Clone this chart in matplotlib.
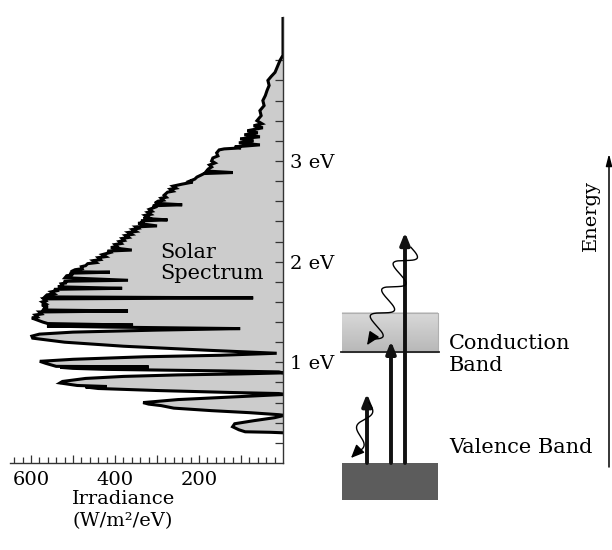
import numpy as np
import matplotlib.pyplot as plt
from matplotlib.ticker import FixedLocator, FuncFormatter

plt.rcParams['font.family'] = ['DejaVu Serif']

# ---------------------------------------------------------------
# solar spectrum (energy in eV, W/m2/eV)
# ---------------------------------------------------------------
energy_ev = [4.43, 4.05, 4.00, 3.95, 3.88, 3.84, 3.80, 3.75, 3.70, 3.65, 3.60, 3.55, 3.50, 3.45,
             3.40, 3.37, 3.35, 3.33, 3.30, 3.28, 3.26, 3.24, 3.22, 3.20, 3.18, 3.16, 3.14, 3.13,
             3.12, 3.11, 3.08, 3.05, 3.03, 3.00, 2.98, 2.96, 2.94, 2.92, 2.90, 2.885, 2.875, 2.86,
             2.84, 2.82, 2.80, 2.79, 2.77, 2.75, 2.73, 2.72, 2.70, 2.69, 2.66, 2.64, 2.63, 2.61,
             2.60, 2.58, 2.565, 2.555, 2.54, 2.52, 2.50, 2.49, 2.47, 2.46, 2.44, 2.43, 2.415, 2.405,
             2.39, 2.38, 2.355, 2.345, 2.33, 2.32, 2.30, 2.29, 2.27, 2.26, 2.24, 2.23, 2.21, 2.20,
             2.18, 2.17, 2.15, 2.14, 2.115, 2.105, 2.09, 2.07, 2.05, 2.04, 2.02, 2.01, 1.99, 1.98,
             1.96, 1.95, 1.93, 1.92, 1.90, 1.895, 1.885, 1.87, 1.86, 1.84, 1.815, 1.805, 1.79, 1.78,
             1.76, 1.75, 1.735, 1.725, 1.71, 1.70, 1.68, 1.67, 1.65, 1.64, 1.63, 1.61, 1.60, 1.58,
             1.57, 1.55, 1.54, 1.52, 1.51, 1.50, 1.48, 1.47, 1.45, 1.44, 1.42, 1.40, 1.385, 1.37,
             1.36, 1.35, 1.335, 1.32, 1.30, 1.28, 1.26, 1.24, 1.20, 1.16, 1.12, 1.09, 1.07, 1.055,
             1.03, 1.01, 0.99, 0.96, 0.955, 0.95, 0.94, 0.93, 0.915, 0.905, 0.895, 0.885, 0.875, 0.86,
             0.84, 0.81, 0.795, 0.77, 0.76, 0.755, 0.74, 0.72, 0.70, 0.69, 0.685, 0.68, 0.66, 0.63,
             0.60, 0.585, 0.57, 0.545, 0.52, 0.50, 0.48, 0.475, 0.47, 0.45, 0.42, 0.39, 0.36, 0.33,
             0.31, 0.305, 0.30]
irradiance = [0, 0, 7, 12, 19, 28, 36, 33, 38, 42, 48, 45, 55, 52,
              62, 50, 70, 48, 85, 60, 92, 55, 102, 70, 105, 55, 115, 100,
              140, 152, 158, 155, 167, 170, 162, 175, 170, 178, 182, 120, 188, 195,
              205, 210, 222, 215, 240, 262, 255, 268, 262, 275, 283, 278, 290, 285,
              298, 305, 240, 310, 305, 318, 312, 322, 315, 328, 320, 332, 275, 338,
              330, 345, 300, 350, 345, 358, 350, 368, 360, 375, 368, 383, 378, 390,
              385, 400, 395, 410, 360, 418, 412, 430, 422, 440, 435, 452, 445, 465,
              470, 480, 478, 495, 505, 412, 508, 500, 515, 519, 369, 522, 515, 528,
              525, 536, 383, 545, 540, 552, 545, 562, 567, 71, 570, 565, 573, 565,
              574, 560, 568, 571, 369, 580, 575, 590, 585, 598, 585, 572, 560, 357,
              562, 420, 102, 300, 500, 580, 598, 596, 520, 380, 180, 15, 150, 330,
              500, 579, 565, 540, 320, 530, 500, 420, 150, 10, 0, 100, 250, 380,
              470, 525, 531, 490, 420, 470, 440, 300, 120, 10, 0, 0, 100, 250,
              333, 320, 290, 260, 170, 80, 10, 0, 0, 20, 70, 115, 120, 105,
              90, 30, 0]

ev_ticks = [1, 2, 3]
ev_labels = ['1 eV', '2 eV', '3 eV']
irr_labels = {600: '600', 400: '400', 200: '200'}

# band diagram (eV for heights, pixel columns for x)
gap_bottom, gap_top = 1.10, 1.49
valence_top, valence_bottom = 0.0, -0.37
photon_x = [367, 391, 405]
photon_top = [0.69, 1.21, 2.29]

# ---------------------------------------------------------------
fig = plt.figure(figsize=(6.12, 5.5), dpi=100)
W, H = 612.0, 550.0
px_per_ev = 100.75

ax = fig.add_axes([10 / W, 1 - 463 / H, 273 / W, 446 / H])
ax.fill_betweenx(energy_ev, irradiance, 0, color='#cccccc', lw=0)
ax.plot(irradiance, energy_ev, color='black', lw=2.2, solid_joinstyle='miter')
ax.set_xlim(650, 0)
ax.set_ylim(0, 4.43)

for side in ['left', 'top']:
    ax.spines[side].set_visible(False)
for side in ['right', 'bottom']:
    ax.spines[side].set_color('#333333')
    ax.spines[side].set_linewidth(1.0)

ax.yaxis.tick_right()
ax.yaxis.set_major_locator(FixedLocator(ev_ticks))
ax.yaxis.set_minor_locator(FixedLocator(np.arange(0.2, 4.01, 0.2)))
ax.set_yticklabels(ev_labels)
ax.tick_params(axis='y', which='both', direction='in', length=6, width=0.9,
               color='#333333', labelsize=14, pad=5)

ax.xaxis.set_major_locator(FixedLocator(np.arange(100, 601, 100)))
ax.xaxis.set_minor_locator(FixedLocator(np.arange(20, 641, 20)))
ax.xaxis.set_major_formatter(FuncFormatter(lambda v, p: irr_labels.get(int(round(v)), '')))
ax.tick_params(axis='x', which='major', direction='in', length=6, width=0.9,
               color='#333333', labelsize=14, pad=6)
ax.tick_params(axis='x', which='minor', direction='in', length=4, width=0.9, color='#333333')

ax.text(293, 1.985, 'Solar\nSpectrum', ha='left', va='center', fontsize=15, linespacing=1.15)
fig.text(72 / W, 1 - 490 / H, 'Irradiance\n(W/m²/eV)', ha='left', va='top', fontsize=14,
         linespacing=1.3)

# ---------------------------------------------------------------
# band diagram on the right, sharing the energy scale
# ---------------------------------------------------------------
bx = fig.add_axes([283 / W, 0, (W - 283) / W, 1])
bx.set_xlim(283, W)
bx.set_ylim(-(H - 463) / px_per_ev, 463 / px_per_ev)
bx.axis('off')

grad = np.linspace(0.72, 0.85, 50).reshape(-1, 1)
bx.imshow(grad, extent=[342, 438, gap_bottom, gap_top], origin='lower', cmap='gray',
          vmin=0, vmax=1, aspect='auto', zorder=1)
bx.plot([342, 438, 438, 342], [gap_bottom, gap_bottom, gap_top, gap_top], color='#b0b0b0',
        lw=0.8, zorder=2)
bx.plot([341, 439], [gap_bottom, gap_bottom], color='#222222', lw=1.3, zorder=3)
bx.fill_between([342, 438], valence_bottom, valence_top, color='#5c5c5c', lw=0, zorder=1)

for x, top in zip(photon_x, photon_top):
    bx.annotate('', xy=(x, top), xytext=(x, valence_top),
                arrowprops=dict(arrowstyle='-|>,head_length=0.7,head_width=0.28', lw=2.8,
                                color='#111111', shrinkA=0, shrinkB=0), zorder=5)


def wavy(x0, y0, x1, y1, periods, amp):
    # sine wiggle in pixel space between two points, returned in axis units
    ys0, ys1 = y0 * px_per_ev, y1 * px_per_ev
    dx, dy = x1 - x0, ys1 - ys0
    length = np.hypot(dx, dy)
    s = np.linspace(0, 1, 200)
    nx, ny = -dy / length, dx / length
    off = amp * np.sin(2 * np.pi * periods * s)
    xs = x0 + dx * s + nx * off
    ys = ys0 + dy * s + ny * off
    return xs, ys / px_per_ev


wx, wy = wavy(411, 2.14, 371, 1.23, 3.5, 10)
bx.plot(wx, wy, color='black', lw=1.0, zorder=6)
bx.annotate('', xy=(367, 1.17), xytext=(wx[-1], wy[-1]),
            arrowprops=dict(arrowstyle='-|>,head_length=0.8,head_width=0.35', lw=1.0,
                            color='black', shrinkA=0, shrinkB=0), zorder=6)

wx, wy = wavy(369, 0.60, 356, 0.10, 1.5, 6)
bx.plot(wx, wy, color='black', lw=1.0, zorder=6)
bx.annotate('', xy=(351, 0.05), xytext=(wx[-1], wy[-1]),
            arrowprops=dict(arrowstyle='-|>,head_length=0.8,head_width=0.35', lw=1.0,
                            color='black', shrinkA=0, shrinkB=0), zorder=6)

bx.text(449, 1.08, 'Conduction\nBand', ha='left', va='center', fontsize=15, linespacing=1.2)
bx.text(449, 0.15, 'Valence Band', ha='left', va='center', fontsize=15)

bx.annotate('', xy=(609, 3.07), xytext=(609, -0.04),
            arrowprops=dict(arrowstyle='-|>,head_length=0.7,head_width=0.18', lw=1.1,
                            color='black', shrinkA=0, shrinkB=0))
bx.text(591, 2.46, 'Energy', rotation=90, ha='center', va='center', fontsize=14)

fig.savefig('out.png', dpi=100)
